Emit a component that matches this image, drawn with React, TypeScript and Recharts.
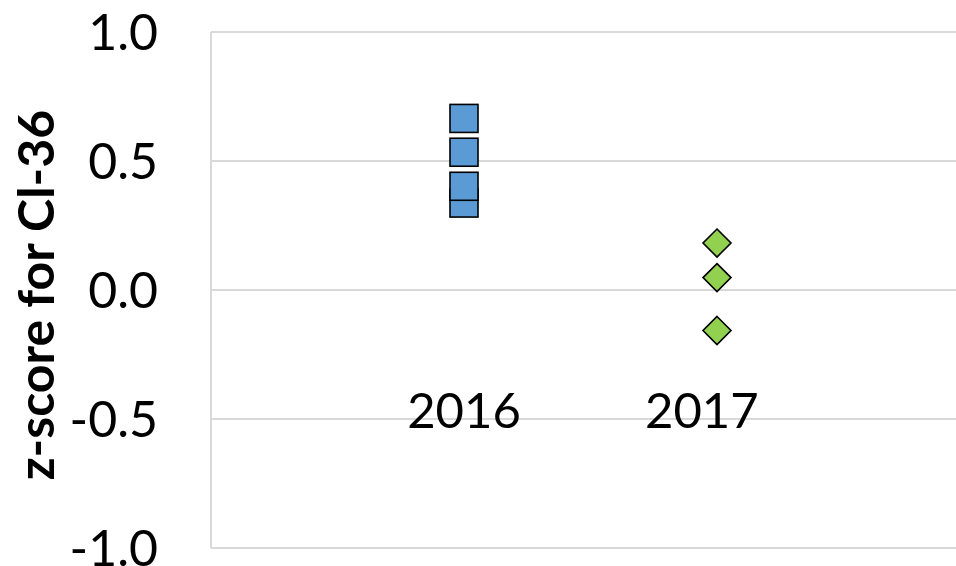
import { ScatterChart, Scatter, XAxis, YAxis, CartesianGrid } from "recharts";

const years = ["2016", "2017"];
const yearTickX = [1, 1.94];
const yTicks = [-1, -0.5, 0, 0.5, 1];

const x2016 = 1;
const x2017 = 2;
const z2016 = [0.337, 0.402, 0.534, 0.665];
const z2017 = [0.182, 0.048, -0.157];

const data2016 = z2016.map((z) => ({ x: x2016, z }));
const data2017 = z2017.map((z) => ({ x: x2017, z }));

const FONT = "Lato, 'Open Sans', sans-serif";

const Square = (props: any) => {
  const { cx, cy } = props;
  const s = 28;
  return (
    <rect
      x={cx - s / 2}
      y={cy - s / 2}
      width={s}
      height={s}
      fill="#5B9BD5"
      stroke="#000"
      strokeWidth={1.6}
    />
  );
};

const Diamond = (props: any) => {
  const { cx, cy } = props;
  const r = 14;
  return (
    <polygon
      points={`${cx},${cy - r} ${cx + r},${cy} ${cx},${cy + r} ${cx - r},${cy}`}
      fill="#92D050"
      stroke="#000"
      strokeWidth={1.6}
    />
  );
};

// year labels sit inside the plot, above the bottom edge
const YearTick = (props: any) => {
  const { x, y, payload } = props;
  const i = yearTickX.indexOf(payload.value);
  return (
    <text
      x={x}
      y={y - 120}
      textAnchor="middle"
      fontFamily={FONT}
      fontSize={49}
      fill="#000"
    >
      {years[i]}
    </text>
  );
};

const AxisTitle = () => (
  <text
    transform="translate(54, 295) rotate(-90)"
    textAnchor="middle"
    fontFamily={FONT}
    fontWeight="bold"
    fontSize={50}
    fill="#000"
  >
    z-score for Cl-36
  </text>
);

export default function App() {
  return (
    <div
      style={{
        position: "absolute",
        left: 0,
        top: 0,
        width: 956,
        height: 566,
        overflow: "hidden",
        background: "#fff",
      }}
    >
      <ScatterChart
        width={970}
        height={566}
        margin={{ top: 32, right: 0, bottom: 8, left: 0 }}
      >
        <CartesianGrid
          vertical={false}
          stroke="#D9D9D9"
          strokeWidth={2}
          horizontalValues={yTicks}
        />
        <XAxis
          type="number"
          dataKey="x"
          domain={[0, 3]}
          ticks={yearTickX}
          interval={0}
          tick={<YearTick />}
          axisLine={false}
          tickLine={false}
          tickSize={0}
          tickMargin={0}
          height={10}
          allowDataOverflow
        />
        <YAxis
          type="number"
          dataKey="z"
          domain={[-1, 1]}
          ticks={yTicks}
          interval={0}
          width={211}
          axisLine={{ stroke: "#D9D9D9", strokeWidth: 2 }}
          tickLine={false}
          tickSize={0}
          tickMargin={53}
          tickFormatter={(v: number) => v.toFixed(1)}
          tick={{ fill: "#000", fontSize: 50, fontFamily: FONT }}
          label={{ content: <AxisTitle /> }}
        />
        <Scatter data={data2016} shape={<Square />} isAnimationActive={false} />
        <Scatter data={data2017} shape={<Diamond />} isAnimationActive={false} />
      </ScatterChart>
    </div>
  );
}
